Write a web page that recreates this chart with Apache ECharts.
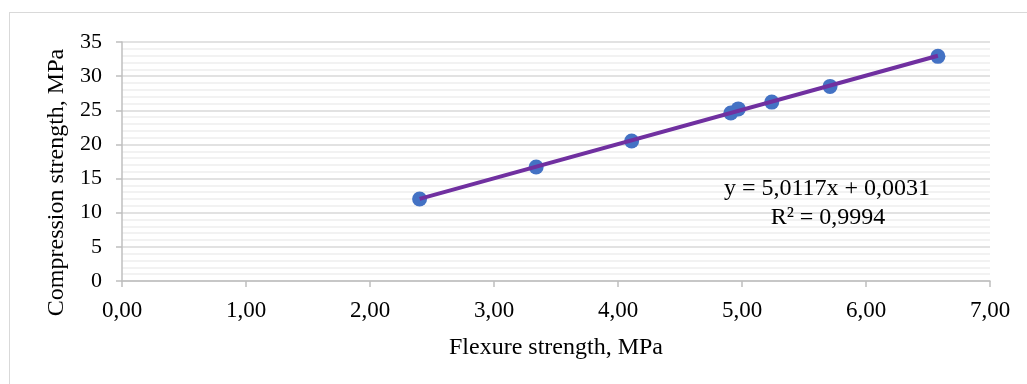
<!DOCTYPE html>
<html>
<head>
<meta charset="utf-8">
<script src="https://cdn.jsdelivr.net/npm/echarts@6/dist/echarts.min.js"></script>
<style>
  html, body { margin: 0; padding: 0; background: #fff; }
  #frame { position: absolute; left: 9px; top: 12px; width: 1040px; height: 400px;
           border: 1px solid #d9d9d9; box-sizing: border-box; }
  #chart { position: absolute; left: 0; top: 0; width: 1027px; height: 384px; }
</style>
</head>
<body>
<div id="frame"></div>
<div id="chart"></div>
<script>
// Measured specimens: flexural vs compressive strength (MPa)
const flexure = [2.40, 3.34, 4.11, 4.91, 4.97, 5.24, 5.71, 6.58];
const compression = [12.0, 16.7, 20.5, 24.6, 25.2, 26.2, 28.5, 32.9];

// Linear trendline coefficients and fit quality
const slope = 5.0117;
const intercept = 0.0031;
const rSquared = 0.9994;

const xTicks = [0, 1, 2, 3, 4, 5, 6, 7];
const yTicks = [0, 5, 10, 15, 20, 25, 30, 35];

const fmt = (v, d) => v.toFixed(d).replace('.', ',');

const points = flexure.map((x, i) => [x, compression[i]]);
const xMin = Math.min(...flexure);
const xMax = Math.max(...flexure);
const trend = [[xMin, slope * xMin + intercept], [xMax, slope * xMax + intercept]];

const font = 'Liberation Serif';
const chart = echarts.init(document.getElementById('chart'), null, { renderer: 'canvas' });

chart.setOption({
  animation: false,
  backgroundColor: 'transparent',
  textStyle: { fontFamily: font },
  grid: { left: 122, right: 37, top: 42, bottom: 103, containLabel: false },
  xAxis: {
    type: 'value',
    min: xTicks[0], max: xTicks[xTicks.length - 1], interval: 1,
    name: 'Flexure strength, MPa',
    nameLocation: 'middle', nameGap: 55,
    nameTextStyle: { fontFamily: font, fontSize: 24, color: '#000' },
    axisLine: { show: true, lineStyle: { color: '#bfbfbf', width: 1.5 } },
    axisTick: { show: true, length: 6, lineStyle: { color: '#bfbfbf', width: 1.5 } },
    axisLabel: { fontFamily: font, fontSize: 23, color: '#000', margin: 18,
                 formatter: v => fmt(v, 2) },
    splitLine: { show: false }
  },
  yAxis: {
    type: 'value',
    min: yTicks[0], max: yTicks[yTicks.length - 1], interval: 5,
    name: 'Compression strength, MPa',
    nameLocation: 'middle', nameGap: 52,
    nameTextStyle: { fontFamily: font, fontSize: 24, color: '#000', padding: [0, 42, 0, 0] },
    axisLine: { show: true, lineStyle: { color: '#bfbfbf', width: 1.5 } },
    axisTick: { show: true, length: 6, lineStyle: { color: '#bfbfbf', width: 1.5 } },
    axisLabel: { fontFamily: font, fontSize: 22, color: '#000', margin: 20 },
    splitLine: { show: true, lineStyle: { color: '#d9d9d9', width: 1.5 } },
    minorTick: { show: false, splitNumber: 5 },
    minorSplitLine: { show: true, lineStyle: { color: '#eeeeee', width: 1.5 } }
  },
  series: [
    {
      type: 'scatter',
      data: points,
      symbol: 'circle',
      symbolSize: 15,
      itemStyle: { color: '#4472c4', opacity: 1 },
      z: 2
    },
    {
      type: 'line',
      data: trend,
      symbol: 'none',
      lineStyle: { color: '#7030a0', width: 4 },
      z: 3
    }
  ],
  graphic: [
    {
      type: 'text', z: 100,
      style: {
        text: 'y = ' + fmt(slope, 4) + 'x + ' + fmt(intercept, 4),
        x: 827, y: 189, align: 'center', verticalAlign: 'middle',
        font: '24px "Liberation Serif"', fill: '#000'
      }
    },
    {
      type: 'text', z: 100,
      style: {
        text: 'R² = ' + fmt(rSquared, 4),
        x: 828, y: 218, align: 'center', verticalAlign: 'middle',
        font: '24px "Liberation Serif"', fill: '#000'
      }
    }
  ]
});
</script>
</body>
</html>
